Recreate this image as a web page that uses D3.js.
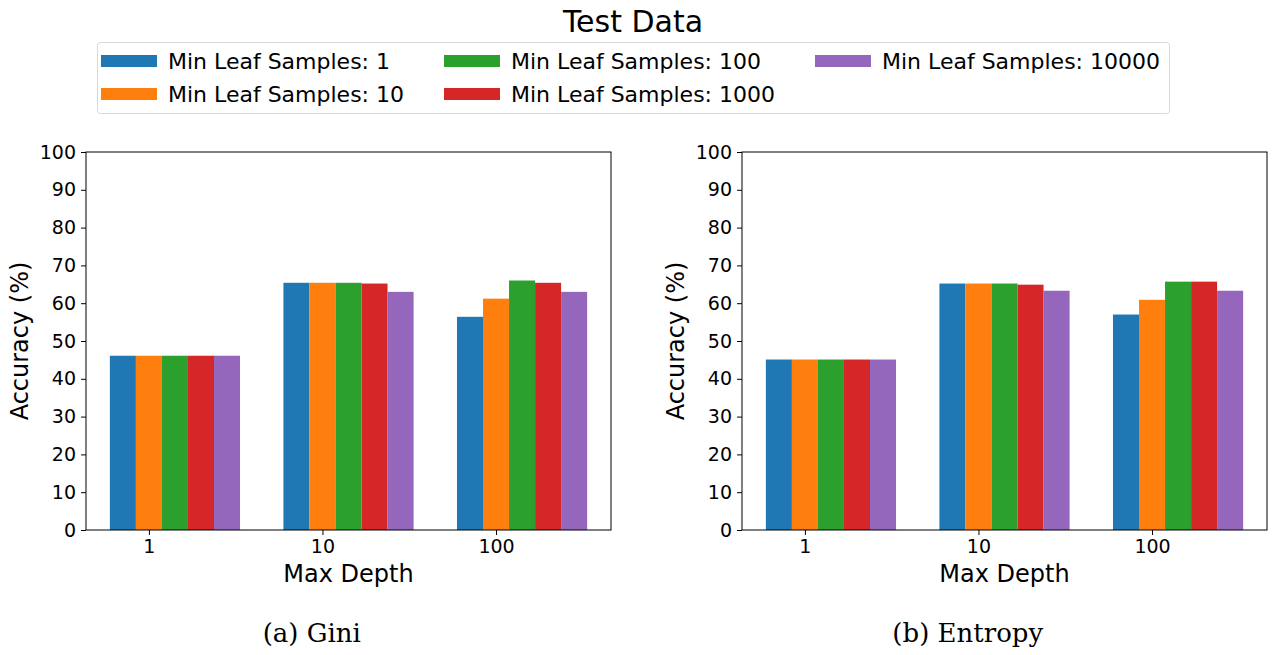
<!DOCTYPE html>
<html>
<head>
<meta charset="utf-8">
<script src="https://cdn.jsdelivr.net/npm/d3@7"></script>
<style>
  body { margin: 0; background: white; }
  text { font-family: "DejaVu Sans", sans-serif; }
</style>
</head>
<body>
<div id="chart"></div>
<script>
////////// data /////////
var depths = ['1', '10', '100'];
var leafSamples = ['1', '10', '100', '1000', '10000'];
var colors = ['#1f77b4', '#ff7f0e', '#2ca02c', '#d62728', '#9467bd'];
// rows = leaf samples, columns = depth
var giniAcc = [
  [46.1, 65.4, 56.4],
  [46.1, 65.4, 61.2],
  [46.1, 65.4, 66.0],
  [46.1, 65.2, 65.4],
  [46.1, 63.0, 63.0]
];
var entropyAcc = [
  [45.1, 65.2, 57.0],
  [45.1, 65.2, 60.9],
  [45.1, 65.2, 65.7],
  [45.1, 64.9, 65.7],
  [45.1, 63.3, 63.3]
];
var yTicks = [0, 10, 20, 30, 40, 50, 60, 70, 80, 90, 100];
var captions = ['(a) Gini', '(b) Entropy'];

var W = 1272, H = 655;
var svg = d3.select('#chart').append('svg')
  .attr('width', W)
  .attr('height', H);

// title
svg.append('text')
  .attr('x', 633).attr('y', 32)
  .attr('text-anchor', 'middle')
  .style('font-size', '30px')
  .text('Test Data');

// legend
var legend = svg.append('g');
legend.append('rect')
  .attr('x', 97.5).attr('y', 42.5)
  .attr('width', 1072).attr('height', 71)
  .attr('rx', 3)
  .style('fill', 'white')
  .style('stroke', '#d9d9d9');
var colX = [101, 444, 815];
var rowY = [61, 94];
leafSamples.forEach(function(s, i) {
  var col = Math.floor(i / 2), row = i % 2;
  legend.append('rect')
    .attr('x', colX[col]).attr('y', rowY[row] - 6)
    .attr('width', 56).attr('height', 12)
    .style('fill', colors[i]);
  legend.append('text')
    .attr('x', colX[col] + 67).attr('y', rowY[row] + 8)
    .style('font-size', '22px')
    .text('Min Leaf Samples: ' + s);
});

// panels
var barW = 0.15;
var panels = [
  {left: 86, right: 611, data: giniAcc, caption: captions[0]},
  {left: 742, right: 1267, data: entropyAcc, caption: captions[1]}
];
var yTop = 152, yBottom = 530;

panels.forEach(function(p) {
  var x = d3.scaleLinear().domain([-0.3625, 2.6625]).range([p.left, p.right]);
  var y = d3.scaleLinear().domain([0, 100]).range([yBottom, yTop]);
  var g = svg.append('g');

  // bars
  leafSamples.forEach(function(s, i) {
    g.selectAll('.bar' + i)
      .data(p.data[i])
      .enter().append('rect')
      .attr('class', 'bar' + i)
      .attr('x', function(d, j) { return x(j + (i - 1) * barW - barW / 2); })
      .attr('width', x(barW) - x(0))
      .attr('y', function(d) { return y(d); })
      .attr('height', function(d) { return y(0) - y(d); })
      .style('fill', colors[i]);
  });

  // axes
  var yAxis = d3.axisLeft(y).tickValues(yTicks).tickSize(5).tickPadding(5);
  var gy = g.append('g').attr('transform', 'translate(' + p.left + ',0)').call(yAxis);
  var xAxis = d3.axisBottom(x).tickValues([0, 1, 2])
    .tickFormat(function(d) { return depths[d]; }).tickSize(5).tickPadding(5);
  var gx = g.append('g').attr('transform', 'translate(0,' + yBottom + ')').call(xAxis);
  [gx, gy].forEach(function(a) {
    a.select('.domain').remove();
    a.selectAll('text').style('font-size', '19px').style('font-family', '"DejaVu Sans", sans-serif').style('fill', '#000');
    a.selectAll('line').style('stroke', '#000').style('stroke-width', 1);
  });

  // frame
  g.append('rect')
    .attr('x', p.left).attr('y', yTop)
    .attr('width', p.right - p.left).attr('height', yBottom - yTop)
    .style('fill', 'none')
    .style('stroke', '#000')
    .style('stroke-width', 1);

  // labels
  g.append('text')
    .attr('x', (p.left + p.right) / 2).attr('y', 582)
    .attr('text-anchor', 'middle')
    .style('font-size', '24px')
    .text('Max Depth');
  g.append('text')
    .attr('transform', 'translate(' + (p.left - 58) + ',' + ((yTop + yBottom) / 2) + ') rotate(-90)')
    .attr('text-anchor', 'middle')
    .style('font-size', '24px')
    .text('Accuracy (%)');
  g.append('text')
    .attr('x', p.left + (p.right - p.left) * 0.43).attr('y', 642)
    .attr('text-anchor', 'middle')
    .style('font-size', '26px')
    .style('font-family', '"DejaVu Serif", serif')
    .text(p.caption);
});
</script>
</body>
</html>
